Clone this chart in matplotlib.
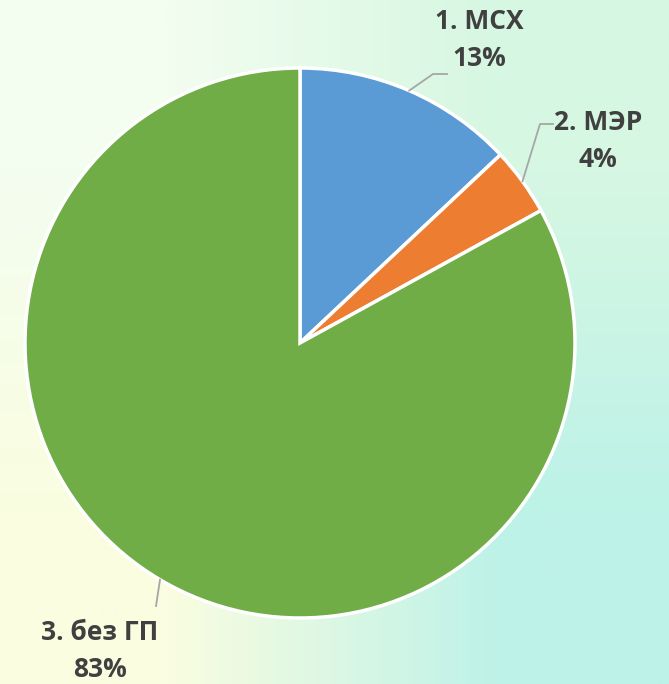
import numpy as np
import matplotlib
matplotlib.use("Agg")
from matplotlib import pyplot as plt

labels = ["1. МСХ", "2. МЭР", "3. без ГП"]
shares = [13, 4, 83]
colors = ["#5b9bd5", "#ed7d31", "#70ad47"]
# label centres and leader elbow/end points, in pixels from top-left
label_xy = [(479, 40), (598, 141), (100, 651)]
leader_pts = [[(433, 74), (447, 74)],
              [(540, 124), (553, 124)],
              [(156, 606)]]

W, H = 669, 684
fig = plt.figure(figsize=(W / 100, H / 100), dpi=100)
ax = fig.add_axes([0, 0, 1, 1])

# soft background gradient (corners: TL, TR / BL, BR)
corners = np.array([
    [[0xf3, 0xfd, 0xf0], [0xd6, 0xf7, 0xe2]],
    [[0xfa, 0xfd, 0xe0], [0xbd, 0xf2, 0xe8]],
]) / 255.0
ax.imshow(corners, extent=[0, W, 0, H], interpolation="bilinear",
          aspect="auto", zorder=0)

cx, cy, r = 300, H - 343, 275
wedges, _ = ax.pie(shares, colors=colors, startangle=90, counterclock=False,
                   center=(cx, cy), radius=r, frame=True,
                   wedgeprops={"edgecolor": "white", "linewidth": 2.5})
ax.set_xlim(0, W)
ax.set_ylim(0, H)
ax.set_aspect("auto")
ax.axis("off")

for w, lab, s, (tx, ty), lp in zip(wedges, labels, shares, label_xy, leader_pts):
    ang = np.deg2rad((w.theta1 + w.theta2) / 2)
    ex, ey = cx + r * np.cos(ang), cy + r * np.sin(ang)
    xs = [ex] + [p[0] for p in lp]
    ys = [ey] + [H - p[1] for p in lp]
    ax.plot(xs, ys, color="#a6a6a6", lw=1.3, zorder=3)
    ax.text(tx, H - ty, "{}\n{}%".format(lab, s), ha="center", va="center",
            fontsize=19, fontweight="bold", color="#404040",
            family="Open Sans", linespacing=1.45, zorder=4)

plt.savefig("out.png", dpi=100)
plt.close()
